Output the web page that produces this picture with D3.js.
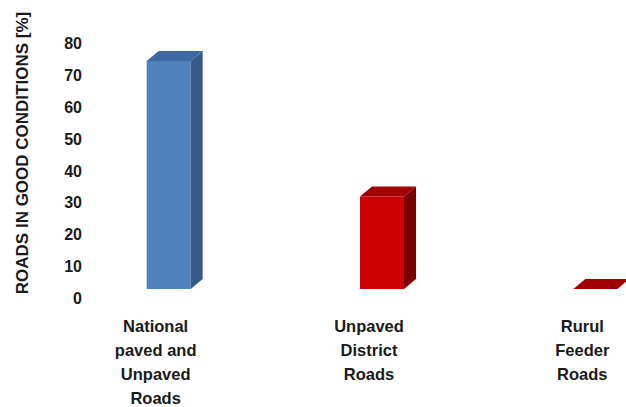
<!DOCTYPE html>
<html><head><meta charset="utf-8">
<script src="https://cdn.jsdelivr.net/npm/d3@7"></script>
<style>
html,body{margin:0;padding:0;background:#fff;}
svg{display:block;}
text{font-family:"Liberation Sans",Arial,sans-serif;font-weight:bold;fill:#1a1a1a;}
</style></head>
<body>
<script>
const categories = [
  ["National", "paved and", "Unpaved", "Roads"],
  ["Unpaved", "District", "Roads"],
  ["Rurul", "Feeder", "Roads"]
];
const values = [71.5, 29, 0];
const yTicks = [0, 10, 20, 30, 40, 50, 60, 70, 80];
const yTitle = "ROADS IN GOOD CONDITIONS [%]";

const palette = [
  {front: "#4f81bd", top: "#3c69a2", side: "#365b8a"},
  {front: "#cc0000", top: "#a10000", side: "#780000"},
  {front: "#cc0000", top: "#a10000", side: "#780000"}
];

const W = 626, H = 407;
const svg = d3.select("body").append("svg").attr("width", W).attr("height", H);

const keys = categories.map((c, i) => "c" + i);
const x = d3.scaleBand().domain(keys).range([49, 689]);
const y = d3.scaleLinear().domain([0, 80]).range([289, 289 - 8 * 31.9]);
const dx = 12, dy = 10, barW = 44, barShift = 13;

// y axis tick labels
const axis = d3.axisLeft(y).tickValues(yTicks).tickSize(0).tickPadding(0).tickFormat(d3.format("d"));
const ag = svg.append("g").attr("transform", "translate(82,9)").call(axis);
ag.select(".domain").remove();
ag.selectAll("text").attr("font-size", 16).attr("font-family", "Liberation Sans, Arial, sans-serif")
  .attr("font-weight", "bold").attr("fill", "#1a1a1a").attr("dy", "0.35em");

// y title
svg.append("text")
  .attr("transform", "translate(28,153) rotate(-90)")
  .attr("text-anchor", "middle")
  .attr("font-size", 17)
  .text(yTitle);

// bars
const bars = svg.append("g");
values.forEach((v, i) => {
  const cx = x(keys[i]) + x.bandwidth() / 2 + barShift;
  const x0 = cx - barW / 2, x1 = cx + barW / 2;
  const yt = y(v), yb = y(0);
  const c = palette[i];
  bars.append("rect").attr("x", x0).attr("y", yt).attr("width", barW).attr("height", Math.max(0, yb - yt)).attr("fill", c.front);
  bars.append("path").attr("d", `M${x1},${yt}L${x1 + dx},${yt - dy}L${x1 + dx},${yb - dy}L${x1},${yb}Z`).attr("fill", c.side);
  bars.append("path").attr("d", `M${x0},${yt}L${x0 + dx},${yt - dy}L${x1 + dx},${yt - dy}L${x1},${yt}Z`).attr("fill", c.top);
});

// category labels
const lab = svg.append("g");
categories.forEach((lines, i) => {
  const cx = x(keys[i]) + x.bandwidth() / 2;
  const t = lab.append("text").attr("text-anchor", "middle").attr("font-size", 16.5);
  lines.forEach((l, j) => {
    t.append("tspan").attr("x", cx).attr("y", 332 + j * 24).text(l);
  });
});
</script>
</body></html>
